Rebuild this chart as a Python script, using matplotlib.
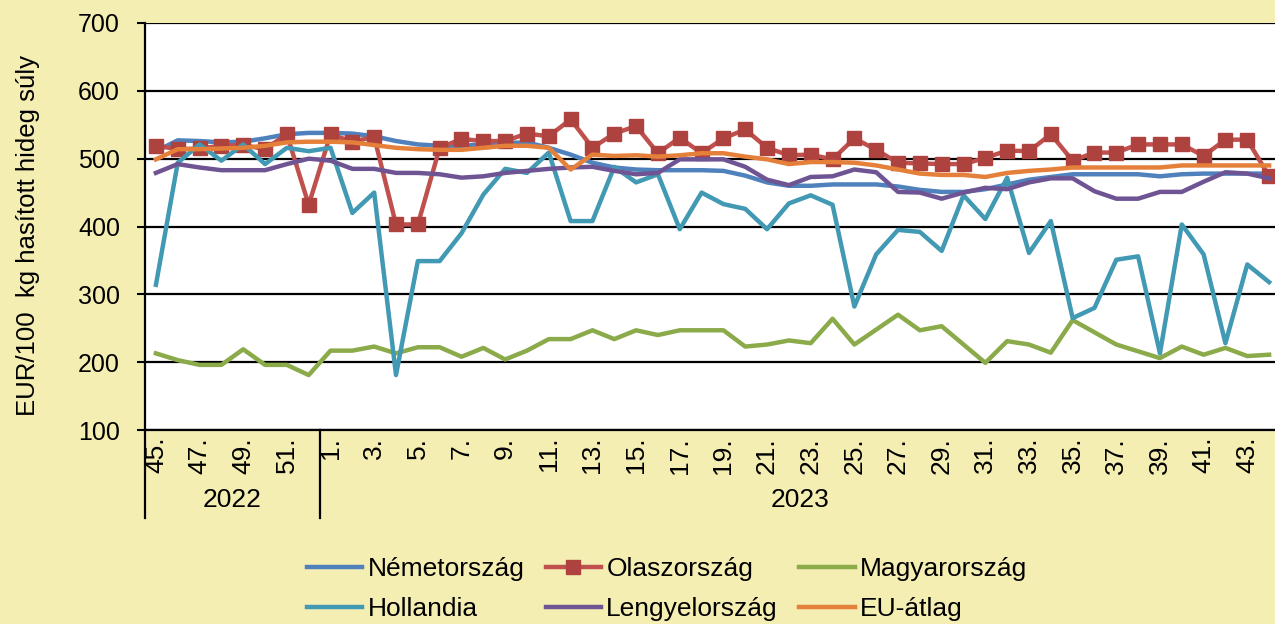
import matplotlib
matplotlib.use('Agg')
import matplotlib.pyplot as plt
import matplotlib.transforms as mtransforms

plt.rcParams['font.family'] = ['Liberation Sans', 'DejaVu Sans']

# weeks 45-52 of 2022, then 1-44 of 2023
weeks = [str(w) + '.' for w in range(45, 53)] + [str(w) + '.' for w in range(1, 45)]
years = ['2022', '2023']
year_sizes = [8, 44]

nemetorszag = [511, 527, 526, 524, 525, 530, 536, 538, 538, 537, 533, 526, 521, 519, 519, 521, 523, 524,
               516, 506, 494, 487, 484, 483, 483, 483, 482, 475, 465, 460, 460, 462, 462, 462, 459, 454,
               451, 451, 455, 462, 469, 473, 477, 477, 477, 477, 474, 477, 478, 478, 478, 478]
olaszorszag = [519, 514, 515, 519, 520, 514, 536, 432, 536, 525, 532, 403, 403, 516, 529, 526, 526, 537,
               533, 558, 516, 537, 548, 508, 531, 508, 530, 543, 516, 505, 506, 499, 530, 513, 494, 493,
               492, 492, 501, 512, 511, 536, 497, 509, 509, 521, 521, 521, 504, 528, 528, 474]
magyarorszag = [213, 203, 196, 196, 219, 196, 196, 181, 217, 217, 223, 213, 222, 222, 208, 221, 204, 217,
                234, 234, 247, 234, 247, 240, 247, 247, 247, 223, 226, 232, 228, 264, 226, 248, 270, 247,
                253, 226, 199, 231, 226, 214, 262, 244, 226, 216, 206, 223, 211, 221, 209, 211]
hollandia = [314, 494, 521, 497, 521, 492, 516, 511, 516, 420, 450, 181, 349, 349, 390, 447, 485, 479,
             509, 408, 408, 488, 465, 477, 396, 450, 433, 426, 396, 434, 446, 432, 282, 359, 395, 392,
             364, 446, 411, 472, 361, 408, 265, 280, 351, 356, 213, 403, 359, 228, 344, 318]
lengyelorszag = [479, 492, 487, 483, 483, 483, 492, 500, 497, 485, 485, 479, 479, 477, 472, 474, 479, 482,
                 485, 487, 488, 482, 477, 479, 499, 499, 499, 488, 469, 461, 473, 474, 484, 480, 451, 450,
                 441, 450, 457, 455, 465, 471, 471, 452, 441, 441, 451, 451, 466, 480, 478, 471]
eu_atlag = [499, 514, 514, 515, 516, 519, 524, 525, 525, 524, 520, 516, 514, 513, 513, 516, 519, 519,
            516, 484, 506, 504, 505, 503, 505, 508, 508, 503, 499, 492, 495, 495, 494, 490, 484, 478,
            476, 476, 473, 479, 482, 484, 487, 487, 487, 487, 487, 490, 490, 490, 490, 490]

bg = '#F5EEB3'
fig = plt.figure(figsize=(12.75, 6.24), dpi=100, facecolor=bg)
ax = fig.add_axes([145 / 1275, 1 - 430 / 624, 1135 / 1275, 407 / 624])
ax.set_facecolor('white')

x = list(range(len(weeks)))
lw = 3.2
l_de, = ax.plot(x, nemetorszag, color='#4F81BD', lw=lw, label='Németország', zorder=3)
l_it, = ax.plot(x, olaszorszag, color='#C0504D', lw=lw, marker='s', markersize=10,
                markerfacecolor='#AE423F', markeredgecolor='#AE423F', label='Olaszország', zorder=4)
l_hu, = ax.plot(x, magyarorszag, color='#8BAA4A', lw=lw, label='Magyarország', zorder=5)
l_nl, = ax.plot(x, hollandia, color='#4199B3', lw=lw, label='Hollandia', zorder=6)
l_pl, = ax.plot(x, lengyelorszag, color='#6F5494', lw=lw, label='Lengyelország', zorder=7)
l_eu, = ax.plot(x, eu_atlag, color='#E5803A', lw=lw, label='EU-átlag', zorder=8)

ax.set_ylim(100, 700)
ax.set_xlim(-0.5, len(weeks) - 0.5)
ax.set_yticks(range(100, 701, 100))
ax.grid(axis='y', color='black', lw=1.6, zorder=1)
ax.set_axisbelow(True)

ax.set_xticks(x[::2])
ax.set_xticklabels(weeks[::2], rotation=90, fontsize=19, va='top', ha='center')
ax.tick_params(axis='x', length=0, pad=5)
ax.tick_params(axis='y', length=6, width=1.5, direction='out', pad=12, labelsize=18)

for s in ['top', 'right']:
    ax.spines[s].set_visible(False)
ax.spines['left'].set_linewidth(1.6)
ax.spines['bottom'].set_linewidth(1.6)

# year grouping lines and labels below the axis
trans = mtransforms.blended_transform_factory(ax.transData, ax.transAxes)
start = -0.5
for yr, n in zip(years, year_sizes):
    ax.plot([start, start], [0, -88 / 407], color='black', lw=1.6, transform=trans, clip_on=False)
    ax.text(start + n / 2, -70 / 407, yr, transform=trans, ha='center', va='center', fontsize=19)
    start += n

fig.text(28 / 1275, 1 - 235 / 624, 'EUR/100  kg hasított hideg súly', rotation=90,
         ha='center', va='center', fontsize=18.5)

handles = [l_de, l_nl, l_it, l_pl, l_hu, l_eu]
leg = fig.legend(handles, [h.get_label() for h in handles], ncol=3, loc='center',
                 bbox_to_anchor=(667 / 1275, 1 - 589 / 624), frameon=False, fontsize=19,
                 handlelength=2.1, handletextpad=0.2, columnspacing=0.8, labelspacing=0.62)

fig.savefig('out.png', dpi=100, facecolor=bg)
